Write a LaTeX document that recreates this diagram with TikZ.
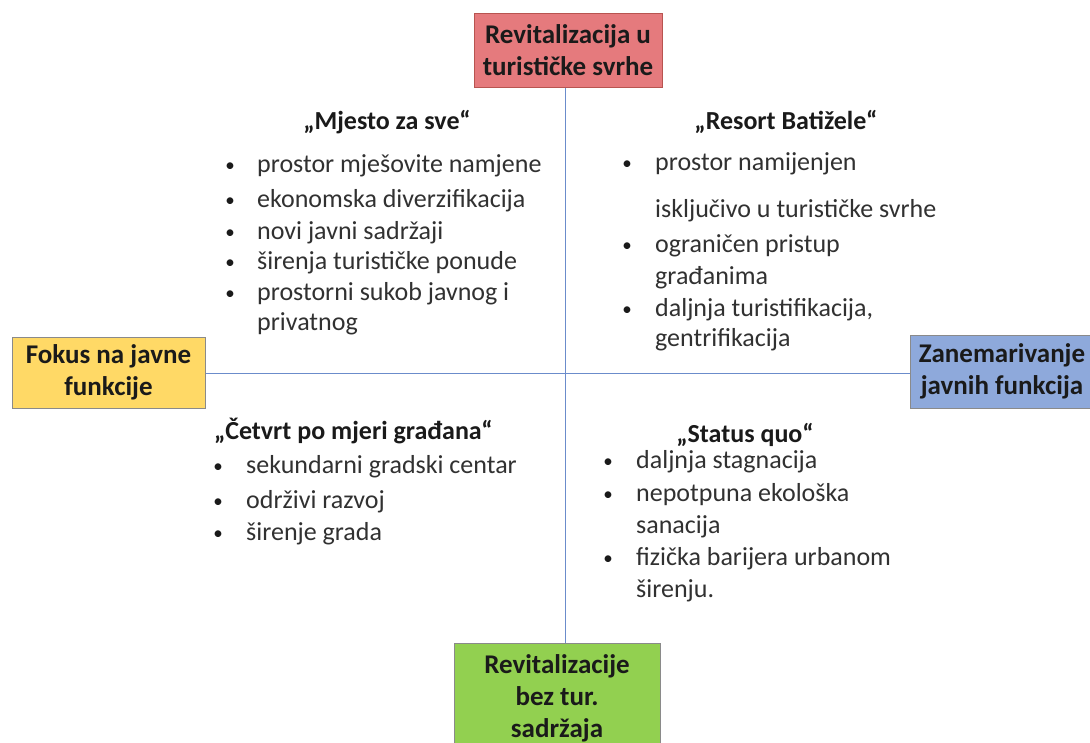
\documentclass[tikz,border=0pt]{standalone}
\usepackage{fontspec}
\setmainfont{Carlito}
\definecolor{redf}{HTML}{E57A7D}
\definecolor{redb}{HTML}{B85450}
\definecolor{yelf}{HTML}{FFD966}
\definecolor{bluf}{HTML}{8EA9DB}
\definecolor{grnf}{HTML}{92D050}
\definecolor{boxb}{HTML}{8A8A8A}
\definecolor{axis}{HTML}{6B8CCB}
\definecolor{txt}{HTML}{1A1A1A}
\tikzset{
  catbox/.style={draw=boxb, line width=1pt, align=center, font=\fontsize{27}{32}\selectfont\bfseries, text=txt, inner sep=0pt},
  head/.style={font=\fontsize{26}{30}\selectfont\bfseries, text=txt, anchor=mid, inner sep=0pt},
  item/.style={font=\fontsize{26}{30}\selectfont, text=txt!90, anchor=mid west, inner sep=0pt},
  dot/.style={font=\fontsize{19}{22}\selectfont, text=txt, anchor=center, inner sep=0pt, yshift=3pt},
  axisline/.style={draw=axis, line width=0.9pt}
}
\begin{document}
\begin{tikzpicture}[x=1pt,y=-1pt]
\useasboundingbox[fill=white] (0,0) rectangle (1090,742);
\node[catbox, fill=redf, draw=redb, minimum width=188pt, minimum height=74pt] (top) at (568,50) {Revitalizacija u\\turističke svrhe};
\node[catbox, fill=yelf, minimum width=193pt, minimum height=71pt] (left) at (108.5,372.5) {Fokus na javne\\funkcije};
\node[catbox, fill=bluf, minimum width=188pt, minimum height=73pt] (right) at (1004,371.5) {\hspace*{-4pt}Zanemarivanje\\\hspace*{-4pt}javnih funkcija};
\node[catbox, fill=grnf, minimum width=206pt, minimum height=110pt] (bot) at (557,698) {Revitalizacije\\bez tur.\\sadržaja};
\coordinate (vx) at (565,0);
\coordinate (hy) at (0,373);
\draw[axisline] (vx |- top.south) -- (vx |- bot.north);
\draw[axisline] (left.east |- hy) -- (right.west |- hy);
% top left
\node[head] (h1) at (387,127) {„Mjesto za sve“};
\foreach \y/\t in {170/prostor mješovite namjene, 205/ekonomska diverzifikacija, 237/novi javni sadržaji, 267/širenja turističke ponude, 298/prostorni sukob javnog i}{
  \node[dot] at (230,\y) {•};
  \node[item] at (257,\y) {\t};
}
\node[item] (tl6) at (257,328) {privatnog};
% top right
\node[head] (h2) at (786,127) {„Resort Batižele“};
\node[dot] at (627,168) {•};
\node[item] at (655,168) {prostor namijenjen};
\node[item] at (655,215) {isključivo u turističke svrhe};
\node[dot] at (627,250) {•};
\node[item] at (655,250) {ograničen pristup};
\node[item] at (655,282) {građanima};
\node[dot] at (627,314) {•};
\node[item] at (655,314) {daljnja turistifikacija,};
\node[item] at (655,344) {gentrifikacija};
% bottom left
\node[head, anchor=mid west] (h3) at (214,437) {„Četvrt po mjeri građana“};
\foreach \y/\t in {471/sekundarni gradski centar, 506/održivi razvoj, 538/širenje grada}{
  \node[dot] at (218,\y) {•};
  \node[item] at (246,\y) {\t};
}
% bottom right
\node[head] (h4) at (745,440) {„Status quo“};
\node[dot] at (608,466) {•};
\node[item] at (636,466) {daljnja stagnacija};
\node[dot] at (608,499) {•};
\node[item] at (636,499) {nepotpuna ekološka};
\node[item] at (636,531) {sanacija};
\node[dot] at (608,563) {•};
\node[item] at (636,563) {fizička barijera urbanom};
\node[item] at (636,595) {širenju.};
\end{tikzpicture}
\end{document}
